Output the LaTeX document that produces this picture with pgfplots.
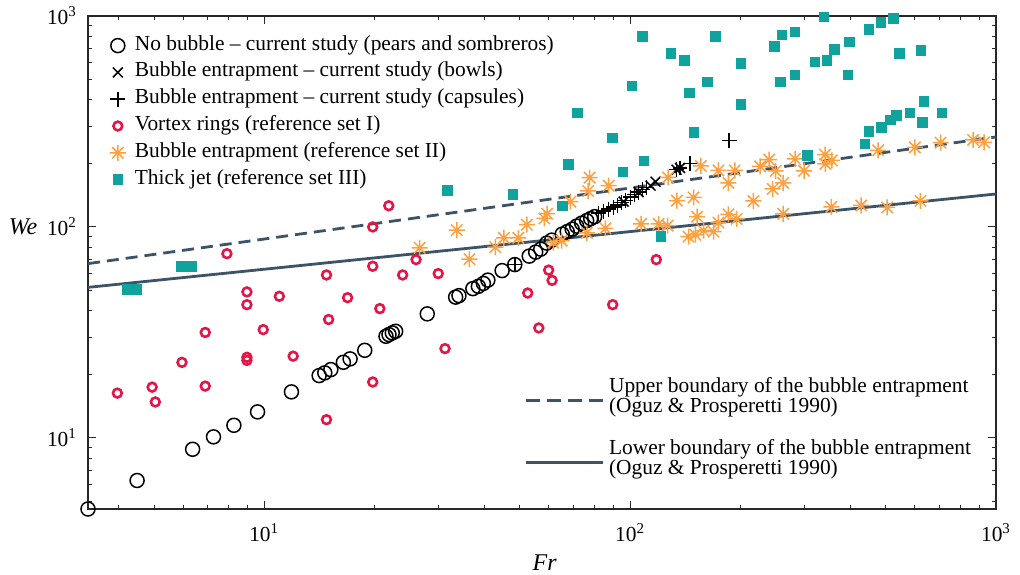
\documentclass[border=0pt]{standalone}
\usepackage{pgfplots}
\pgfplotsset{compat=1.18}
\usepackage{fontspec}
\setmainfont{Liberation Serif}

\definecolor{ringred}{RGB}{228,22,72}
\definecolor{entorange}{RGB}{255,160,64}
\definecolor{jetteal}{RGB}{16,163,158}
\definecolor{boundary}{RGB}{61,83,102}
\definecolor{axisgray}{RGB}{40,40,40}

% eight-ray asterisk: a plus and a cross drawn on top of each other
\pgfdeclareplotmark{ast8}{%
  \pgfpathmoveto{\pgfqpoint{0pt}{\pgfplotmarksize}}%
  \pgfpathlineto{\pgfqpoint{0pt}{-\pgfplotmarksize}}%
  \pgfpathmoveto{\pgfqpoint{\pgfplotmarksize}{0pt}}%
  \pgfpathlineto{\pgfqpoint{-\pgfplotmarksize}{0pt}}%
  \pgfpathmoveto{\pgfqpoint{0.7071\pgfplotmarksize}{0.7071\pgfplotmarksize}}%
  \pgfpathlineto{\pgfqpoint{-0.7071\pgfplotmarksize}{-0.7071\pgfplotmarksize}}%
  \pgfpathmoveto{\pgfqpoint{-0.7071\pgfplotmarksize}{0.7071\pgfplotmarksize}}%
  \pgfpathlineto{\pgfqpoint{0.7071\pgfplotmarksize}{-0.7071\pgfplotmarksize}}%
  \pgfusepathqstroke}

\pgfplotsset{
  pt legend/.style={legend image code/.code={\draw[##1] plot coordinates {(0pt,0pt)};}},
  seg legend/.style={legend image code/.code={\draw[##1] (0pt,-2pt) -- (38.5pt,-2pt);}},
}

\begin{document}
\begin{tikzpicture}
\useasboundingbox (-44pt,-32.5pt) rectangle (466pt,254.5pt);
\begin{axis}[
  at={(0pt,0pt)}, anchor=south west,
  scale only axis, width=454pt, height=246.5pt,
  xmode=log, ymode=log,
  xmin=3.3, xmax=1000, ymin=4.6, ymax=1000,
  clip=false,
  axis line style={axisgray, line width=0.6pt},
  tick style={axisgray, line width=0.5pt},
  major tick length=4pt, minor tick length=2pt,
  tick align=inside,
  xtick={10,100,1000},
  xticklabels={10\textsuperscript{1},10\textsuperscript{2},10\textsuperscript{3}},
  ytick={10,100,1000},
  yticklabels={10\textsuperscript{1},10\textsuperscript{2},10\textsuperscript{3}},
  minor xtick={4,5,6,7,8,9,20,30,40,50,60,70,80,90,200,300,400,500,600,700,800,900},
  minor ytick={5,6,7,8,9,20,30,40,50,60,70,80,90,200,300,400,500,600,700,800,900},
  ticklabel style={font=\fontsize{10.7}{12}\selectfont},
  xticklabel style={yshift=-4pt},
  yticklabel style={xshift=-2pt},
  xlabel={\textit{Fr}},
  ylabel={\textit{We}},
  xlabel style={font=\fontsize{12}{14}\selectfont, at={(axis description cs:0.503,0)}, anchor=center, yshift=-27pt},
  ylabel style={font=\fontsize{12}{14}\selectfont, rotate=-90, at={(axis description cs:0,0.572)}, anchor=center, xshift=-32.5pt},
  legend style={
    at={(axis description cs:0.0236,0.960)}, anchor=north west,
    draw=none, fill=none, inner sep=0pt,
    font=\fontsize{10.7}{12}\selectfont,
    row sep=3.9pt,
    nodes={inner sep=0pt, text height=7pt, text depth=2.5pt},
    /tikz/every odd column/.append style={column sep=4.5pt},
  },
  legend cell align=left,
]
% boundaries of the bubble-entrapment region (Oguz & Prosperetti 1990)
\addplot[forget plot, boundary, line width=1.4pt, dash pattern=on 6pt off 3.5pt]
  coordinates {(3.3,67.0) (1000,267)};
\addplot[forget plot, boundary, line width=1.4pt]
  coordinates {(3.3,51.7) (1000,143.3)};

% no bubble - current study
\addplot[only marks, mark=o, mark size=3.5pt, line width=0.75pt, black, pt legend]
  coordinates {
  (3.3,4.6) (4.494,6.28) (6.374,8.83) (7.27,10.11) (8.265,11.47) (9.59,13.28)
  (11.87,16.52) (14.13,19.74) (14.64,20.33) (15.21,21.07) (16.46,22.82)
  (17.17,23.68) (18.83,26.01) (21.52,30.31) (21.93,30.88) (22.39,31.45)
  (22.87,32.01) (27.9,38.71) (33.36,46.48) (34.06,47.24) (37.18,50.99)
  (38.49,52.29) (39.72,53.97) (40.86,55.96) (44.69,62.09) (48.4,66.3)
  (53.0,72.72) (55.2,75.97) (57.0,78.48) (59.17,83.82) (61.06,86.6)
  (65.24,92.45) (67.32,95.0) (69.46,97.6) (71.45,100.9) (73.74,104.2)
  (76.09,107.1) (78.03,109.5) (80.01,111.9)
  };
\addlegendentry{No bubble -- current study (pears and sombreros)}

% bubble entrapment - bowls
\addplot[only marks, mark=x, mark size=3.5pt, line width=0.75pt, black, pt legend]
  coordinates {
  (96.0,131.8) (105.5,146.2) (113.7,156.9) (117.4,163.9) (133.9,186.8) (136.9,190.3)
  };
\addlegendentry{Bubble entrapment -- current study (bowls)}

% bubble entrapment - capsules
\addplot[only marks, mark=+, mark size=3.7pt, line width=0.75pt, black, pt legend]
  coordinates {
  (48.4,66.3) (82.04,116.2) (84.67,118.8) (87.36,121.4) (90.16,124.1)
  (92.45,126.9) (94.8,130.3) (97.21,133.3) (100.3,138.4) (102.9,142.3)
  (105.5,146.2) (108.2,150.3) (110.9,153.5) (133.9,186.8) (136.9,190.3)
  (146.0,199.5) (186.6,256.4)
  };
\addlegendentry{Bubble entrapment -- current study (capsules)}

% vortex rings (reference set I)
\addplot[only marks, mark=o, mark size=2.2pt, line width=1.3pt, ringred, pt legend]
  coordinates {
  (3.97,16.3) (4.94,17.4) (5.04,14.8) (5.96,22.8) (6.90,31.6) (6.90,17.6)
  (7.91,74.7) (8.97,49.2) (8.97,42.8) (8.97,24.1) (8.97,23.3) (9.94,32.6)
  (11.0,46.9) (12.0,24.4) (14.8,59.2) (14.8,12.2) (15.0,36.4) (16.9,46.2)
  (19.8,100) (19.8,65.1) (19.8,18.4) (20.7,41.0) (21.9,126) (23.9,59.2)
  (26.0,70.0) (29.9,60.1) (31.2,26.5) (52.5,48.6) (56.3,33.2) (59.9,62.4)
  (61.2,55.8) (89.6,42.8) (117.9,70.0)
  };
\addlegendentry{Vortex rings (reference set I)}

% bubble entrapment (reference set II)
\addplot[only marks, mark=ast8, mark size=4pt, line width=0.75pt, entorange, pt legend]
  coordinates {
  (26.6,79.6) (33.6,96.6) (36.4,70.4) (42.8,80.2) (45.2,88.7) (49.5,88.7)
  (52.2,102.5) (58.3,109.7) (59.3,115.6) (61.7,84.2) (65.0,86.1) (68.7,131.8)
  (76.2,93.7) (76.8,148.1) (77.5,171.3) (85.6,98.5) (87.4,156.9) (107.2,103.4)
  (119.6,103.4) (126.6,101.4) (127,171.7) (134.2,133.3) (144.4,90.0) (149.1,138)
  (150.7,91.9) (152.4,111.9) (156.1,194.6) (158.7,96.0) (169,95.0) (174.4,185.3)
  (174.4,104.8) (185.7,161.6) (185.7,114.7) (193.2,185.3) (195.6,109.1)
  (217.3,132.8) (226.6,193.7) (239.8,208.4) (245.3,151.4) (250,184.3)
  (262,161.6) (262,115.4) (282.3,210.2) (298.8,184.5) (341,220.1) (341.6,199.1)
  (355.8,206.6) (354.6,124.4) (428.2,126.4) (476.4,230.7) (504.2,123.7)
  (600.1,238.4) (621.5,132.9) (705.6,250.8) (865.3,258.4) (927.5,251.7)
  };
\addlegendentry{Bubble entrapment (reference set II)}

% thick jet (reference set III)
\addplot[only marks, mark=square*, mark size=2.4pt, jetteal, mark options={draw=jetteal, fill=jetteal}, pt legend]
  coordinates {
  (4.23,50.6) (4.49,50.6) (5.95,65.1) (6.32,65.1) (31.7,149) (47.8,143)
  (65.4,126) (67.9,198) (71.9,347) (89.6,264) (95.6,182) (101.1,467)
  (108.2,798) (109.2,206) (121.4,90.4) (129.4,666) (140.8,614) (145.3,432)
  (149.5,281) (162.7,488) (170.8,798) (200.6,596) (200.6,381) (248,718)
  (259.6,813) (257,488) (282.3,840) (282.3,525) (305,219) (320.1,605)
  (345.1,614) (338.7,992) (361.4,695) (397.8,753) (393.9,525) (438.3,248)
  (449.5,284) (449.5,864) (484.5,933) (485.4,296) (514.6,322) (524.4,971)
  (534.6,337) (543.6,666) (581.5,347) (623,685) (628.2,313) (634.9,393)
  (711,347)
  };
\addlegendentry{Thick jet (reference set III)}
\end{axis}

% second legend, for the two boundary lines
\begin{axis}[
  at={(0pt,0pt)}, anchor=south west,
  scale only axis, width=454pt, height=246.5pt,
  xmode=log, ymode=log,
  xmin=3.3, xmax=1000, ymin=4.6, ymax=1000,
  hide axis,
  legend style={
    at={(axis description cs:0.480,0.268)}, anchor=north west,
    draw=none, fill=none, inner sep=0pt,
    font=\fontsize{10.7}{10}\selectfont,
    row sep=12pt,
    nodes={inner sep=0pt, align=left},
    /tikz/every odd column/.append style={column sep=2.5pt},
  },
  legend cell align=left,
]
\addplot[draw=none, forget plot] coordinates {(10,10) (20,20)};
\addlegendimage{boundary, line width=1.4pt, dash pattern=on 7pt off 3.5pt, seg legend}
\addlegendentry{Upper boundary of the bubble entrapment\\(Oguz \& Prosperetti 1990)}
\addlegendimage{boundary, line width=1.4pt, seg legend}
\addlegendentry{Lower boundary of the bubble entrapment\\(Oguz \& Prosperetti 1990)}
\end{axis}
\end{tikzpicture}
\end{document}
